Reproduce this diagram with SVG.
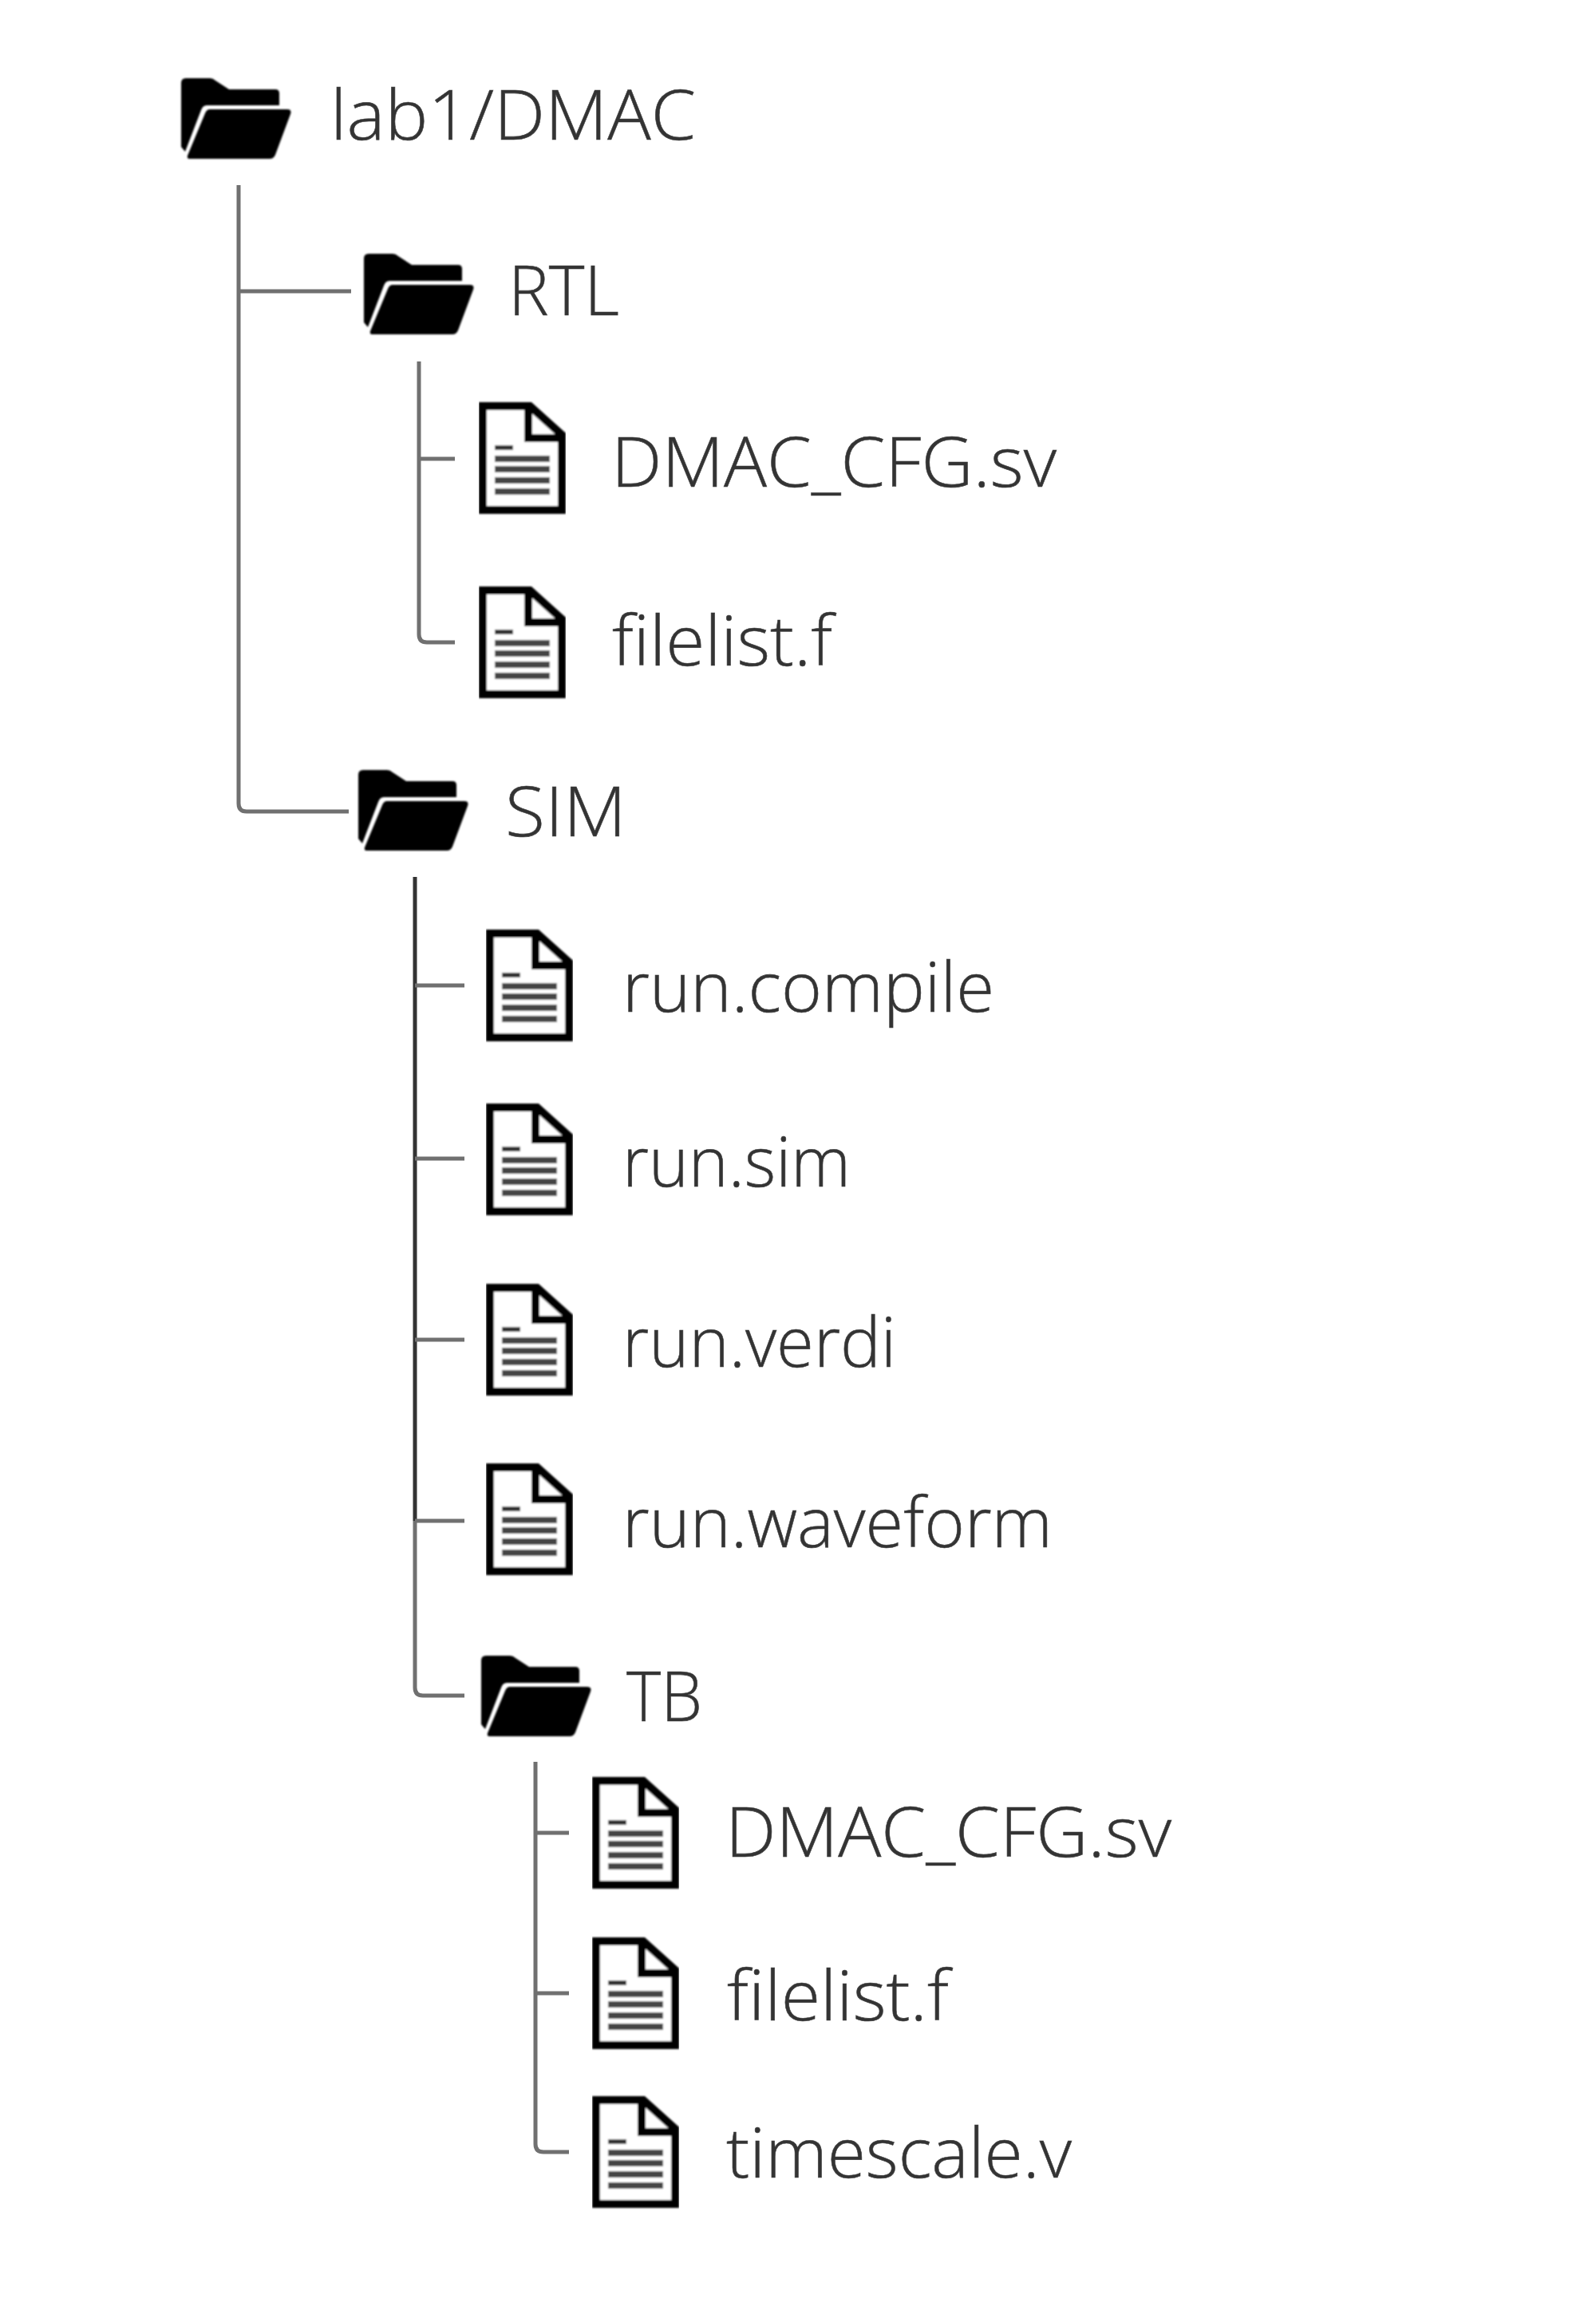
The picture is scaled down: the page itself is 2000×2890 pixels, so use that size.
<svg xmlns="http://www.w3.org/2000/svg" width="2000" height="2890" viewBox="0 0 2000 2890">
<style>
text{font-family:"Open Sans","Noto Sans","Liberation Sans",sans-serif;font-weight:300;font-size:86px;fill:#333;stroke:#444;stroke-width:.6}
.c{fill:none;stroke-width:5;stroke-linecap:butt;stroke-linejoin:round}
.d{stroke:#333}.g{stroke:#707070}
.ic{filter:url(#soft)}
</style>
<defs>
<filter id="soft" x="-5%" y="-5%" width="110%" height="110%"><feGaussianBlur stdDeviation="1"/></filter>
<symbol id="folder" width="140" height="104" viewBox="0 0 140 104" overflow="visible">
<path d="M0 6Q0 0 6 0H36Q40 0 43 3L60 14H118Q123 14 123 19V34H32Q27 34 25 40L5 92L0 86Z" fill="#000"/>
<path d="M36 39H133Q139 39 137 45L118 96Q116 101 111 101H10Q7 101 8 97L30 44Q32 39 36 39Z" fill="#000"/>
</symbol>
<symbol id="file" width="110" height="140" viewBox="0 0 110 140" overflow="visible">
<path d="M5 5H64L104 41V135H5Z" fill="#fff" stroke="#000" stroke-width="10" stroke-linejoin="miter"/>
<path d="M62 5V45H104" fill="none" stroke="#000" stroke-width="10"/>
<path d="M20 57H43" stroke="#333" stroke-width="6"/>
<path d="M20 71H89M20 84H89M20 98H89M20 112H89" stroke="#444" stroke-width="8"/>
</symbol>
</defs>
<rect width="2000" height="2890" fill="#fff"/>
<g id="connectors">
<path class="c g" d="M299 232V1007Q299 1017 309 1017H437M299 365H440"/>
<path class="c g" d="M525 453V795Q525 805 535 805H570M525 575H570"/>
<path class="c d" d="M520 1099V1906"/>
<path class="c g" d="M520 1235H582M520 1452H582M520 1679H582M520 1906V2115Q520 2125 530 2125H582M520 1906H582"/>
<path class="c g" d="M671 2208V2687Q671 2697 681 2697H713M671 2297H713M671 2498H713"/>
</g>
<g id="n-lab1"><use class="ic" href="#folder" x="227" y="98"/><text x="414" y="175" textLength="458" lengthAdjust="spacingAndGlyphs">lab1/DMAC</text></g>
<g id="n-rtl"><use class="ic" href="#folder" x="456" y="318"/><text x="637" y="395" textLength="139" lengthAdjust="spacingAndGlyphs">RTL</text></g>
<g id="n-rtl-cfg"><use class="ic" href="#file" x="600" y="504"/><text x="766" y="610" textLength="558" lengthAdjust="spacingAndGlyphs">DMAC_CFG.sv</text></g>
<g id="n-rtl-filelist"><use class="ic" href="#file" x="600" y="735"/><text x="767" y="834" textLength="276" lengthAdjust="spacingAndGlyphs">filelist.f</text></g>
<g id="n-sim"><use class="ic" href="#folder" x="449" y="965"/><text x="633" y="1048" textLength="152" lengthAdjust="spacingAndGlyphs">SIM</text></g>
<g id="n-compile"><use class="ic" href="#file" x="609" y="1165"/><text x="780" y="1268" textLength="466" lengthAdjust="spacingAndGlyphs">run.compile</text></g>
<g id="n-runsim"><use class="ic" href="#file" x="609" y="1383"/><text x="780" y="1487" textLength="286" lengthAdjust="spacingAndGlyphs">run.sim</text></g>
<g id="n-verdi"><use class="ic" href="#file" x="609" y="1609"/><text x="780" y="1713" textLength="343" lengthAdjust="spacingAndGlyphs">run.verdi</text></g>
<g id="n-waveform"><use class="ic" href="#file" x="609" y="1834"/><text x="780" y="1939" textLength="539" lengthAdjust="spacingAndGlyphs">run.waveform</text></g>
<g id="n-tb"><use class="ic" href="#folder" x="603" y="2075"/><text x="785" y="2157" textLength="95" lengthAdjust="spacingAndGlyphs">TB</text></g>
<g id="n-tb-cfg"><use class="ic" href="#file" x="742" y="2227"/><text x="909" y="2327" textLength="559" lengthAdjust="spacingAndGlyphs">DMAC_CFG.sv</text></g>
<g id="n-tb-filelist"><use class="ic" href="#file" x="742" y="2428"/><text x="911" y="2532" textLength="278" lengthAdjust="spacingAndGlyphs">filelist.f</text></g>
<g id="n-timescale"><use class="ic" href="#file" x="742" y="2627"/><text x="910" y="2729" textLength="433" lengthAdjust="spacingAndGlyphs">timescale.v</text></g>
</svg>
